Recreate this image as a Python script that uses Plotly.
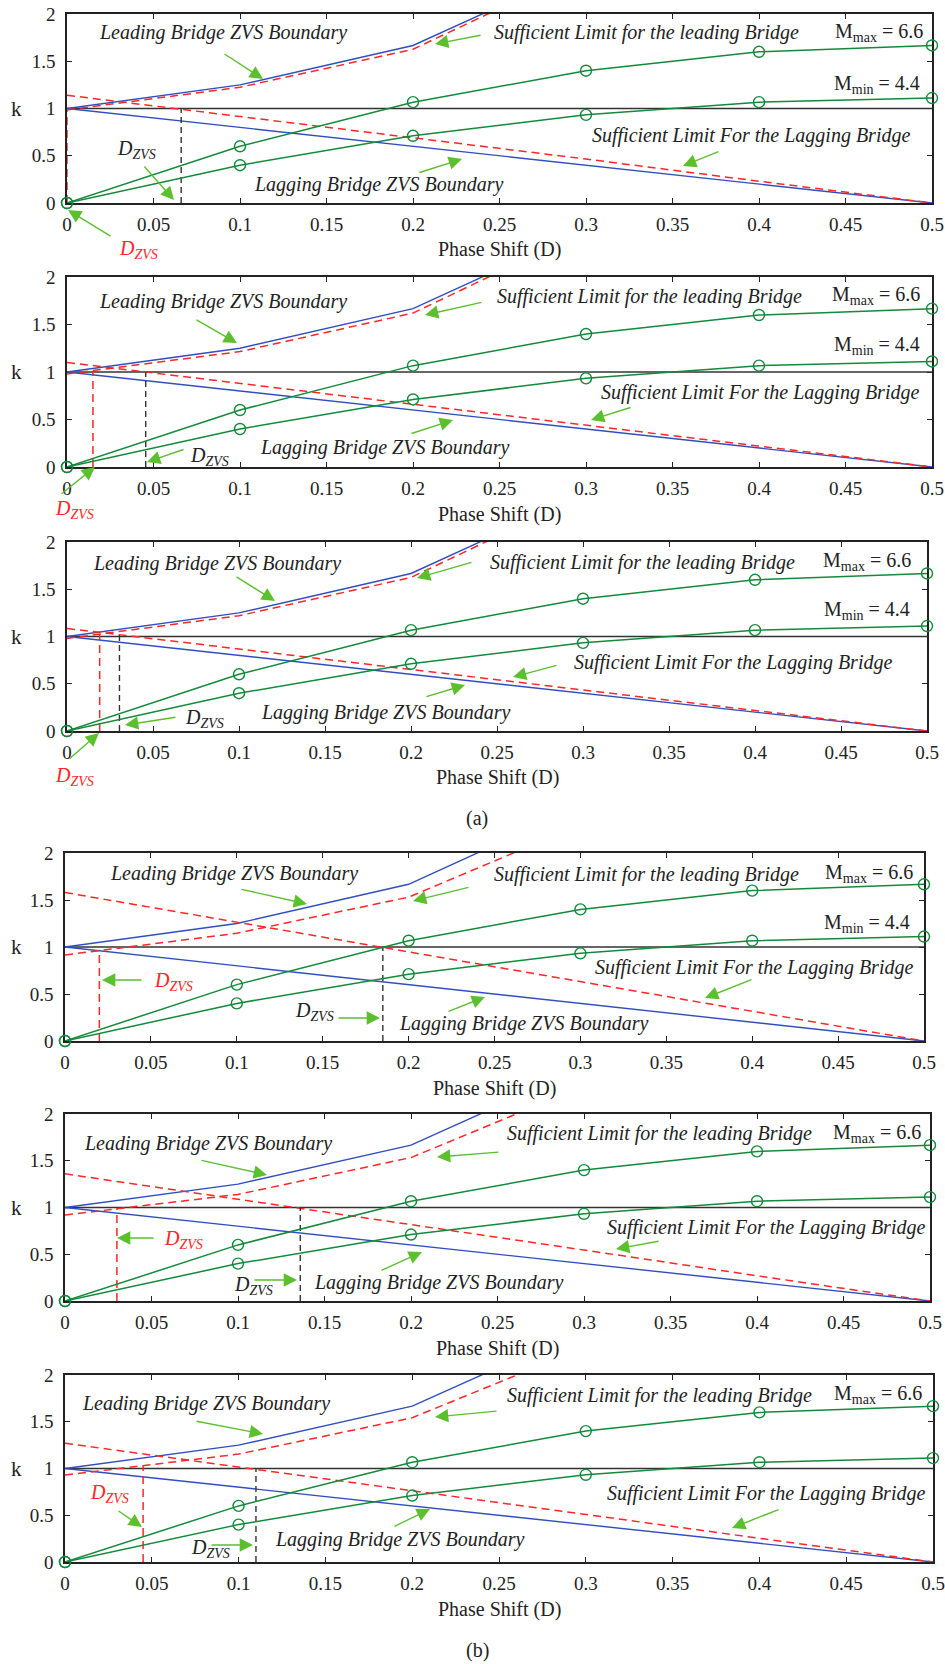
import plotly.graph_objects as go

# ---------------- data ----------------
D = [0, 0.1, 0.2, 0.3, 0.4, 0.5]
D_lead = [0, 0.1, 0.2, 0.3]
lead_zvs_k = [1.0, 1.25, 1.667, 2.5]
lag_zvs_k = [1.0, 0.8, 0.6, 0.4, 0.2, 0.0]
k_mmax = [0, 0.6, 1.067, 1.4, 1.6, 1.667]
k_mmin = [0, 0.4, 0.711, 0.933, 1.067, 1.111]
k_ref_D = [0, 0.5]
k_ref = [1.0, 1.0]

lead_suff = [
    [0.985, 1.225, 1.627, 2.49],
    [0.98, 1.215, 1.62, 2.49],
    [0.98, 1.22, 1.625, 2.49],
    [0.915, 1.146, 1.53, 2.30],
    [0.92, 1.14, 1.534, 2.30],
    [0.93, 1.154, 1.543, 2.30],
]
lag_suff = [
    [1.14, 0.915, 0.69, 0.465, 0.23, 0.0],
    [1.10, 0.88, 0.66, 0.44, 0.22, 0.0],
    [1.085, 0.868, 0.651, 0.434, 0.217, 0.0],
    [1.58, 1.265, 0.95, 0.635, 0.32, 0.0],
    [1.36, 1.09, 0.82, 0.545, 0.27, 0.0],
    [1.27, 1.016, 0.762, 0.508, 0.254, 0.0],
]
dzvs_red = [0.0, 0.015, 0.019, 0.020, 0.030, 0.045]
dzvs_red_top = [0.985, 1.01, 1.03, 0.97, 0.99, 1.03]
dzvs_black = [0.066, 0.0455, 0.0305, 0.185, 0.136, 0.11]
dzvs_black_top = [1.0, 1.0, 1.02, 1.0, 1.0, 1.0]

x_tick_vals = [0, 0.05, 0.1, 0.15, 0.2, 0.25, 0.3, 0.35, 0.4, 0.45, 0.5]
x_tick_text = ["0", "0.05", "0.1", "0.15", "0.2", "0.25", "0.3", "0.35", "0.4", "0.45", "0.5"]
y_tick_vals = [0, 0.5, 1, 1.5, 2]
y_tick_text = ["0", "0.5", "1", "1.5", "2"]

# ---------------- style ----------------
W, H = 945, 1664
FONT = "Liberation Serif, Times New Roman, DejaVu Serif, serif"
BLUE = "#2f4fbf"
RED = "#ff2626"
GREEN = "#128a3a"
ARROW = "#5cbf2e"
INK = "#222222"

LEAD = "<i>Leading Bridge ZVS Boundary</i>"
SUFF_LEAD = "<i>Sufficient Limit for the leading Bridge</i>"
SUFF_LAG = "<i>Sufficient Limit For the Lagging Bridge</i>"
LAG = "<i>Lagging Bridge ZVS Boundary</i>"
MMAX = "M<sub>max</sub> = 6.6"
MMIN = "M<sub>min</sub> = 4.4"
DZ = "<i>D<sub>ZVS</sub></i>"

# panel boxes in pixels: left, right, top, bottom
panels = [
    (67, 932, 14, 203),
    (67, 932, 277, 467),
    (67, 927, 542, 731),
    (65, 924, 853, 1041),
    (65, 930, 1114, 1301),
    (65, 933, 1375, 1562),
]

# per-panel labels: (text, x, y, anchor, color) and arrows: (tail_x, tail_y, head_x, head_y)
labels = [
    [(LEAD, 97, 33, "left", INK), (SUFF_LEAD, 492, 33, "left", INK),
     (MMAX, 925, 32, "right", INK), (MMIN, 922, 84, "right", INK),
     (SUFF_LAG, 590, 135, "left", INK), (LAG, 252, 185, "left", INK),
     (DZ, 115, 150, "left", INK), (DZ, 117, 250, "left", RED)],
    [(LEAD, 97, 302, "left", INK), (SUFF_LEAD, 495, 297, "left", INK),
     (MMAX, 922, 295, "right", INK), (MMIN, 922, 345, "right", INK),
     (SUFF_LAG, 599, 393, "left", INK), (LAG, 258, 447, "left", INK),
     (DZ, 188, 456, "left", INK), (DZ, 53, 510, "left", RED)],
    [(LEAD, 91, 563, "left", INK), (SUFF_LEAD, 488, 562, "left", INK),
     (MMAX, 913, 561, "right", INK), (MMIN, 912, 610, "right", INK),
     (SUFF_LAG, 572, 662, "left", INK), (LAG, 259, 712, "left", INK),
     (DZ, 183, 718, "left", INK), (DZ, 53, 776, "left", RED)],
    [(LEAD, 108, 873, "left", INK), (SUFF_LEAD, 492, 874, "left", INK),
     (MMAX, 915, 873, "right", INK), (MMIN, 912, 923, "right", INK),
     (SUFF_LAG, 593, 967, "left", INK), (LAG, 397, 1023, "left", INK),
     (DZ, 152, 981, "left", RED), (DZ, 293, 1011, "left", INK)],
    [(LEAD, 82, 1143, "left", INK), (SUFF_LEAD, 505, 1133, "left", INK),
     (MMAX, 923, 1133, "right", INK),
     (SUFF_LAG, 605, 1227, "left", INK), (LAG, 312, 1282, "left", INK),
     (DZ, 162, 1239, "left", RED), (DZ, 232, 1285, "left", INK)],
    [(LEAD, 80, 1403, "left", INK), (SUFF_LEAD, 505, 1395, "left", INK),
     (MMAX, 924, 1394, "right", INK),
     (SUFF_LAG, 605, 1493, "left", INK), (LAG, 273, 1539, "left", INK),
     (DZ, 88, 1493, "left", RED), (DZ, 189, 1548, "left", INK)],
]
arrows = [
    [(223, 53, 263, 79), (482, 35, 435, 44), (720, 151, 683, 166), (418, 173, 462, 159),
     (143, 165, 174, 200), (112, 237, 68, 210)],
    [(195, 319, 237, 343), (483, 302, 425, 315), (632, 407, 591, 420), (410, 434, 453, 420),
     (185, 449, 147, 462), (60, 495, 95, 467)],
    [(235, 576, 275, 601), (473, 562, 417, 578), (558, 665, 513, 677), (425, 697, 465, 685),
     (177, 717, 125, 725), (68, 760, 99, 733)],
    [(240, 889, 307, 904), (470, 887, 413, 901), (753, 979, 705, 998), (447, 1012, 485, 997),
     (143, 980, 102, 980), (337, 1018, 380, 1018)],
    [(200, 1160, 267, 1175), (500, 1152, 437, 1157), (660, 1241, 616, 1249), (380, 1271, 422, 1252),
     (155, 1238, 117, 1238), (253, 1280, 297, 1280)],
    [(195, 1421, 263, 1434), (498, 1411, 435, 1417), (780, 1509, 732, 1528), (393, 1527, 430, 1509),
     (117, 1510, 142, 1527), (210, 1545, 253, 1545)],
]


def X(px):
    return px / W


def Y(py):
    return 1 - py / H


fig = go.Figure()
annotations = []
layout_axes = {}

for i, (l, r, t, b) in enumerate(panels):
    n = i + 1
    xa = "x" if n == 1 else f"x{n}"
    ya = "y" if n == 1 else f"y{n}"
    common = dict(xaxis=xa, yaxis=ya, hoverinfo="skip", showlegend=False)

    # reference line k = 1
    fig.add_trace(go.Scatter(x=k_ref_D, y=k_ref, mode="lines",
                             line=dict(color="#333333", width=1.6), **common))
    # ZVS boundaries
    fig.add_trace(go.Scatter(x=D_lead, y=lead_zvs_k, mode="lines",
                             line=dict(color=BLUE, width=1.4), **common))
    fig.add_trace(go.Scatter(x=D, y=lag_zvs_k, mode="lines",
                             line=dict(color=BLUE, width=1.4), **common))
    # sufficient limits
    fig.add_trace(go.Scatter(x=D_lead, y=lead_suff[i], mode="lines",
                             line=dict(color=RED, width=1.5, dash="8px,5px"), **common))
    fig.add_trace(go.Scatter(x=D, y=lag_suff[i], mode="lines",
                             line=dict(color=RED, width=1.5, dash="8px,5px"), **common))
    # D_ZVS markers
    fig.add_trace(go.Scatter(x=[dzvs_black[i], dzvs_black[i]], y=[0, dzvs_black_top[i]], mode="lines",
                             line=dict(color="#333333", width=1.4, dash="6px,4px"), **common))
    fig.add_trace(go.Scatter(x=[dzvs_red[i], dzvs_red[i]], y=[0, dzvs_red_top[i]], mode="lines",
                             line=dict(color=RED, width=1.5, dash="8px,5px"), **common))
    # green M curves
    for kk in (k_mmax, k_mmin):
        fig.add_trace(go.Scatter(x=D, y=kk, mode="lines+markers", cliponaxis=False,
                                 line=dict(color=GREEN, width=1.5),
                                 marker=dict(symbol="circle-open", size=11, color=GREEN,
                                             line=dict(width=1.4, color=GREEN)),
                                 **common))

    axcommon = dict(showgrid=False, zeroline=False, showline=True, linecolor=INK, linewidth=1.6,
                    mirror="allticks", ticks="inside", ticklen=5, tickwidth=1.2, tickcolor=INK,
                    tickfont=dict(family=FONT, size=19, color=INK), layer="below traces",
                    automargin=False, fixedrange=True)
    xkey = "xaxis" if n == 1 else f"xaxis{n}"
    ykey = "yaxis" if n == 1 else f"yaxis{n}"
    layout_axes[xkey] = dict(domain=[X(l), X(r)], range=[0, 0.5], anchor=ya,
                             tickvals=x_tick_vals, ticktext=x_tick_text,
                             ticklabelstandoff=3, **axcommon)
    layout_axes[ykey] = dict(domain=[Y(b), Y(t)], range=[0, 2], anchor=xa,
                             tickvals=y_tick_vals, ticktext=y_tick_text,
                             ticklabelstandoff=6, **axcommon)

    # axis labels
    annotations.append(dict(text="Phase Shift (D)", x=X((l + r) / 2), y=Y(b + 47), xref="paper",
                            yref="paper", showarrow=False, xanchor="center", yanchor="middle",
                            font=dict(family=FONT, size=20, color=INK)))
    annotations.append(dict(text="k", x=X(16), y=1, xref="paper", yref=ya, showarrow=False,
                            xanchor="center", yanchor="middle",
                            font=dict(family=FONT, size=21, color=INK)))

    for (txt, px, py, anc, col) in labels[i]:
        annotations.append(dict(text=txt, x=X(px), y=Y(py), xref="paper", yref="paper",
                                showarrow=False, xanchor=anc, yanchor="middle",
                                font=dict(family=FONT, size=20, color=col)))
    for (tx, ty, hx, hy) in arrows[i]:
        annotations.append(dict(text="", x=X(hx), y=Y(hy), xref="paper", yref="paper",
                                ax=tx - hx, ay=ty - hy, axref="pixel", ayref="pixel",
                                showarrow=True, arrowhead=2, arrowsize=1.9, arrowwidth=1.4,
                                arrowcolor=ARROW, standoff=0, startstandoff=0))

annotations.append(dict(text="(a)", x=X(477), y=Y(818), xref="paper", yref="paper", showarrow=False,
                        xanchor="center", yanchor="middle", font=dict(family=FONT, size=20, color=INK)))
annotations.append(dict(text="(b)", x=X(477), y=Y(1650), xref="paper", yref="paper", showarrow=False,
                        xanchor="center", yanchor="middle", font=dict(family=FONT, size=20, color=INK)))

fig.update_layout(width=W, height=H, autosize=False,
                  margin=dict(l=0, r=0, t=0, b=0, pad=0),
                  paper_bgcolor="white", plot_bgcolor="white",
                  font=dict(family=FONT, color=INK),
                  annotations=annotations, **layout_axes)

fig.write_html("out.html", config={"displayModeBar": False})
